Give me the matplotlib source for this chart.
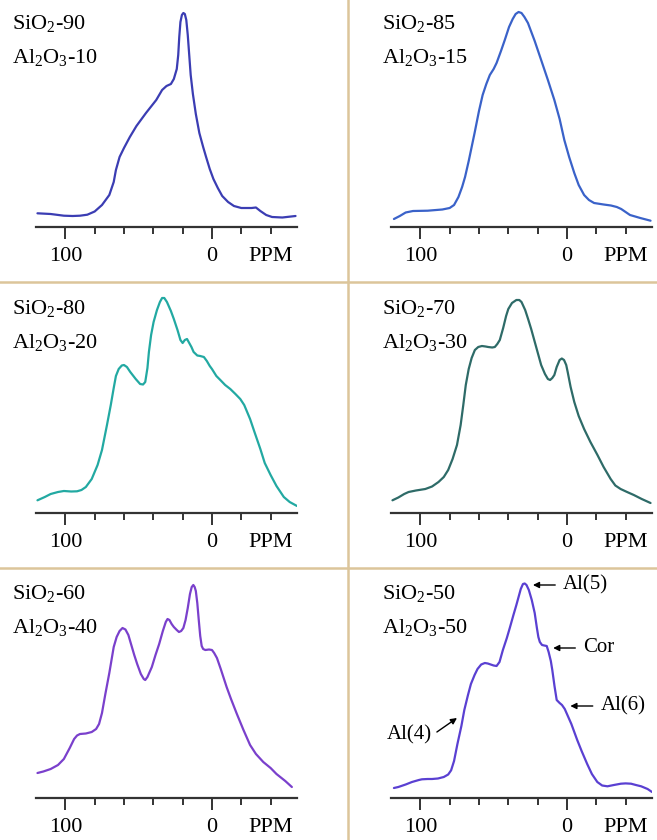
import numpy as np
import matplotlib
matplotlib.use("Agg")
import matplotlib.pyplot as plt
from matplotlib.lines import Line2D
from matplotlib.ticker import FixedLocator, NullFormatter

plt.rcParams["font.family"] = ["Liberation Serif", "DejaVu Serif"]
plt.rcParams["mathtext.fontset"] = "custom"
plt.rcParams["mathtext.rm"] = "Liberation Serif"
plt.rcParams["mathtext.it"] = "Liberation Serif:italic"

# chemical shift (ppm) and intensity (a.u.)
PPM_90 = [119, 110, 101, 95, 90, 85, 80, 75, 70, 67, 65.5, 63, 60, 56, 51.5, 45, 38, 34,
          31, 28, 26, 24, 23, 22.3, 21.5, 20.5, 19.5, 18.5, 17.5, 16.5, 15.5, 14.5, 13,
          11, 8.6, 6, 4, 1.5, -1, -4, -7, -11, -15, -20, -27, -30, -33, -37, -41, -48, -57]
INT_90 = [13.7, 13, 11.3, 11, 11.3, 12.3, 15.5, 22, 32, 45, 57, 70, 79, 90, 101, 114, 127, 137,
          141, 143, 148, 158, 172, 190, 205, 212, 214, 213, 207, 192, 172, 152, 133,
          113, 94, 80, 70, 58, 48, 39, 31, 25, 21, 19, 19, 19.5, 16, 12, 10, 9.5, 11]

PPM_85 = [118, 114, 110, 105, 95, 85, 80, 77, 74, 71.5, 69.5, 67, 65, 63, 60, 57.5, 55,
          52.6, 50, 48, 45, 42.4, 39.5, 37, 35, 33, 31, 29, 26.6, 22, 17.6, 13, 8.6, 5,
          1.8, -1.5, -5, -8, -11.7, -15, -18.5, -25, -30, -34, -37, -40, -43, -50, -57]
INT_85 = [8, 11, 14.5, 16, 16.3, 17.5, 19, 22, 30, 40, 50, 66, 80, 94, 116, 132, 143,
          152, 158, 164, 176, 187, 200, 208, 213, 215, 214, 210, 204, 186, 167, 147, 127, 108,
          87, 70, 54, 42, 32, 27, 24, 22.5, 21.5, 20, 18, 15, 12, 9, 6.3]

PPM_80 = [119, 114, 110, 105, 101, 96, 92, 89, 86, 82, 78, 75, 71.6, 69, 67, 65.5, 63.6,
          61.5, 60, 58, 55.7, 52, 49, 47, 45.5, 44, 43, 41.5, 39.8, 37.5, 35.5, 34, 32.5,
          30.7, 28, 26, 23.5, 21.5, 20, 18.5, 17, 15.5, 14, 12.5, 10, 8, 5.5, 3.5, 1.5, 0,
          -3, -5.7, -9, -12.5, -16, -19.3, -22, -24, -26, -29, -33, -36, -40, -44, -49,
          -53, -58]
INT_80 = [12.7, 16, 19, 21, 22, 21.5, 21.7, 23, 26, 34, 48, 63, 88, 108, 125, 137, 144,
          147.5, 148, 146, 141, 134, 129, 128.5, 131, 145, 161, 178, 191, 203, 211, 215, 215,
          211, 202, 194, 183, 173, 170, 173, 174, 170, 166, 161, 157.5, 157, 156, 152, 147, 144,
          137, 133, 128, 124, 119, 114, 108, 101, 94, 81, 64, 50, 38, 27, 16,
          11, 7]

PPM_70 = [119, 115, 111, 108, 103, 96.6, 92, 87.6, 84, 81, 78, 75, 72.5, 70.7, 69, 67, 65,
          62.8, 60.5, 58, 55.5, 53.7, 51, 49.2, 47.5, 45.8, 43.5, 41.5, 40, 37.5, 34.5, 32.5,
          31, 28.5, 26.5, 24.4, 21, 17.6, 15, 13, 11.5, 10, 8.6, 7, 5, 3.5, 2, 0.5, -0.5,
          -2.5, -5, -8, -11.7, -16, -20.8, -25, -29.8, -33, -36.6, -41, -45.6, -51, -57]
INT_70 = [12.7, 15.5, 19, 21, 22.5, 24, 26.5, 31, 36, 43, 54, 68, 88, 108, 128, 144, 155,
          163, 166, 167, 166.5, 166, 165.5, 166, 169, 173, 185, 197, 204, 210, 213, 213,
          211, 203, 194, 184, 166, 148, 139, 134, 133, 135, 138, 146, 153, 154.5, 153, 148, 141,
          126, 111, 97, 84, 71, 58, 46, 34, 27.5, 24, 21, 18, 14, 10]

PPM_60 = [119, 115, 110, 105, 101, 97, 94, 92, 90, 86, 82, 79, 77, 75, 72.7, 70, 67, 65, 63,
          61, 59, 57, 55, 53, 51, 48.5, 46.5, 45.5, 44, 41, 38.5, 36, 33.5, 31.5, 30.3, 29,
          27.5, 26, 24, 22.5, 21, 19.5, 18, 16.5, 15, 13.8, 12.7, 11.8, 11, 10, 9, 8, 7, 6,
          4.5, 2, 0, -1.5, -3.4, -6, -10, -13, -17, -21.5, -26, -30, -35, -40, -44, -50,
          -54.5]
INT_60 = [25, 26.5, 29, 33, 39, 50, 59, 62.5, 64, 64.5, 66, 69, 74, 85, 104, 125, 151, 161, 167,
          170, 168.5, 163, 153, 143, 134, 124, 119, 118, 121, 131, 143, 154, 167, 176, 179, 178,
          174, 171, 168, 166, 167, 170, 178, 190, 204, 211, 213, 211, 207, 195, 178, 162, 152, 149,
          148, 148.5, 148, 145, 140, 129, 111, 99, 84, 68, 53, 44, 36, 30, 24, 17,
          11]

PPM_50 = [118, 115, 110, 105.7, 101, 98.9, 95, 92, 88, 84, 81, 79, 77, 74.7, 72, 70, 67.5,
          65.5, 63, 61, 58.5, 56, 54, 53, 50, 48, 46, 43.7, 41, 39, 36.5, 34.5, 33, 31.5, 30,
          28.8, 27.6, 26, 24, 22, 20.5, 19.5, 18.5, 17, 15.5, 13.8, 12.5, 11, 10, 8.5, 7, 5,
          3.4, 1.5, 0, -3, -7, -10, -13.8, -17, -20.7, -24, -27.6, -32, -36.8, -40, -43.7,
          -47, -50.6, -55, -58]
INT_50 = [10, 11, 13.5, 16, 18, 18.7, 19, 19, 19.5, 21, 23.5, 27.7, 37, 54, 72, 88, 103,
          114, 123, 129, 133.5, 135, 134.5, 134, 132.5, 132, 136, 148, 160, 170, 183, 193, 201, 209, 214,
          214.5, 213, 208, 198, 185, 170, 161, 156, 153, 152.5, 152, 146, 137, 128, 112, 98, 95,
          93, 89, 84, 74, 58, 47, 34, 24, 16, 12.5, 11.7, 13, 14.3, 14.6, 14.3,
          13, 11.7, 9, 6]

SIO2 = [90, 85, 80, 70, 60, 50]
AL2O3 = [10, 15, 20, 30, 40, 50]
SPECTRA = [(PPM_90, INT_90), (PPM_85, INT_85), (PPM_80, INT_80),
           (PPM_70, INT_70), (PPM_60, INT_60), (PPM_50, INT_50)]
COLORS = ["#3b3db3", "#3a62c9", "#22a9a2", "#2e6b68", "#7a40cc", "#5a40d2"]

W, H = 657, 840
fig = plt.figure(figsize=(W / 100, H / 100), dpi=100)

col_left = [36, 391]
row_axis_y = [227, 513, 798]
ax_w, ax_h = 261, 222

axes = []
for i, (ppm, inten) in enumerate(SPECTRA):
    r, c = divmod(i, 2)
    x0 = col_left[c]
    y_axis = row_axis_y[r]
    ax = fig.add_axes([x0 / W, (H - y_axis) / H, ax_w / W, ax_h / H])
    ax.plot(ppm, inten, color=COLORS[i], lw=1.6, solid_joinstyle="round",
            solid_capstyle="round")
    ax.set_xlim(120, -58)
    ax.set_ylim(0, 222)
    for s in ["top", "left", "right"]:
        ax.spines[s].set_visible(False)
    ax.spines["bottom"].set_linewidth(1.6)
    ax.spines["bottom"].set_color("#333333")
    ax.set_yticks([])
    ax.xaxis.set_major_locator(FixedLocator([100, 0]))
    ax.xaxis.set_minor_locator(FixedLocator([80, 60, 40, 20, -20, -40]))
    ax.xaxis.set_minor_formatter(NullFormatter())
    ax.set_xticklabels(["100", "0"])
    ax.tick_params(axis="x", which="major", direction="out", length=8.5, width=1.4,
                   color="#333333", labelsize=16, pad=6)
    ax.tick_params(axis="x", which="minor", direction="out", length=5, width=1.4,
                   color="#333333")
    ax.patch.set_visible(False)
    ax.annotate("PPM", xy=(-40, 0), xycoords=("data", "axes fraction"),
                xytext=(0, -14.5), textcoords="offset points",
                ha="center", va="top", fontsize=16)

    tx = (12 if c == 0 else 382) / W
    ty1 = H - (23 + r * 285.5)
    ty2 = H - (57 + r * 285.5)
    fig.text(tx, ty1 / H, r"SiO$_2$-%d" % SIO2[i], fontsize=16, va="center", ha="left")
    fig.text(tx, ty2 / H, r"Al$_2$O$_3$-%d" % AL2O3[i], fontsize=16, va="center", ha="left")
    axes.append(ax)

# peak assignments on the last spectrum
ax6 = axes[5]
arrow = dict(arrowstyle="-|>", color="black", lw=1.0, mutation_scale=9,
             shrinkA=0, shrinkB=0)
ax6.annotate("", xy=(23.2, 213), xytext=(8, 213), arrowprops=arrow)
ax6.text(2.5, 213, "Al(5)", fontsize=15, ha="left", va="center")
ax6.annotate("", xy=(9.4, 150), xytext=(-5.7, 150), arrowprops=arrow)
ax6.text(-11, 150, "Cor", fontsize=15, ha="left", va="center")
ax6.annotate("", xy=(-2.3, 92), xytext=(-17.6, 92), arrowprops=arrow)
ax6.text(-23, 92, "Al(6)", fontsize=15, ha="left", va="center")
ax6.annotate("", xy=(75, 80), xytext=(88.7, 66), arrowprops=arrow,
             annotation_clip=False)
ax6.text(92, 63, "Al(4)", fontsize=15, ha="right", va="center", clip_on=False)

# tan separators between panels
sep = "#dcc59a"
fig.add_artist(Line2D([348 / W, 348 / W], [0, 1], color=sep, lw=1.8))
for yy in [282, 568]:
    fig.add_artist(Line2D([0, 1], [(H - yy) / H, (H - yy) / H], color=sep, lw=1.8))

fig.savefig("out.png", dpi=100)
